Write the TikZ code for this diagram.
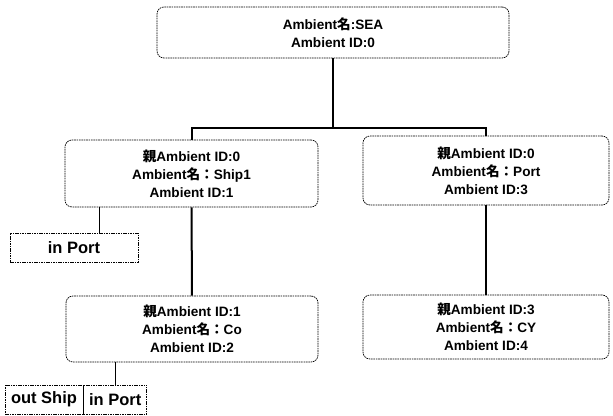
\documentclass[tikz,border=0pt]{standalone}
\usepackage{fontspec}
\setmainfont{Liberation Sans}
\newfontfamily\cjk{Noto Sans CJK JP}
\usepackage{tikz}
\usetikzlibrary{calc}
\tikzset{
  ambox/.style={draw, dash pattern=on 1.6pt off 0.8pt, line width=0.7pt, rounded corners=7pt,
    align=center, inner sep=0pt, font=\bfseries\fontsize{13.6}{18}\selectfont},
  capbox/.style={draw, dash pattern=on 1.6pt off 0.8pt, line width=0.7pt, inner sep=0pt,
    minimum height=29pt, font=\bfseries\fontsize{16.5}{20}\selectfont},
  trunk/.style={line width=2pt},
  twig/.style={line width=0.8pt}
}

\begin{document}
\begin{tikzpicture}[x=1pt,y=-1pt]
\useasboundingbox (0,0) rectangle (613,415);
\node[ambox, minimum width=352pt, minimum height=51pt] (sea) at (333,32.5)
  {Ambient{\cjk 名}:SEA\\Ambient ID:0};
\node[ambox, minimum width=253pt, minimum height=67pt] (ship) at (191.5,173.5)
  {{\cjk 親}Ambient ID:0\\Ambient{\cjk 名：}Ship1\\Ambient ID:1};
\node[ambox, minimum width=246pt, minimum height=69pt] (port) at (486,170.5)
  {{\cjk 親}Ambient ID:0\\Ambient{\cjk 名：}Port\\Ambient ID:3};
\node[ambox, minimum width=252pt, minimum height=66pt] (co) at (192,329)
  {{\cjk 親}Ambient ID:1\\Ambient{\cjk 名：}Co\\Ambient ID:2};
\node[ambox, minimum width=246pt, minimum height=64pt] (cy) at (486,327)
  {{\cjk 親}Ambient ID:3\\Ambient{\cjk 名：}CY\\Ambient ID:4};
\node[capbox, minimum width=128pt] (inport) at (74,247.5) {in Port};
\node[capbox, minimum width=78pt] (outship) at (44,399.5) {out Ship};
\node[capbox, minimum width=63pt, anchor=west] (coport) at (outship.east) {in Port};
\coordinate (fork) at (333,128);
\draw[trunk] (sea) -- (fork);
\draw[trunk] (fork) -| (ship);
\draw[trunk] (fork) -| (port);
\draw[trunk] (ship) -- (co);
\draw[trunk] (port) -- (cy);
\draw[twig] ([xshift=25pt]inport.north) -- ([xshift=25pt]inport.north |- ship.south);
\draw[twig] (coport.north) -- (coport.north |- co.south);
\end{tikzpicture}
\end{document}
